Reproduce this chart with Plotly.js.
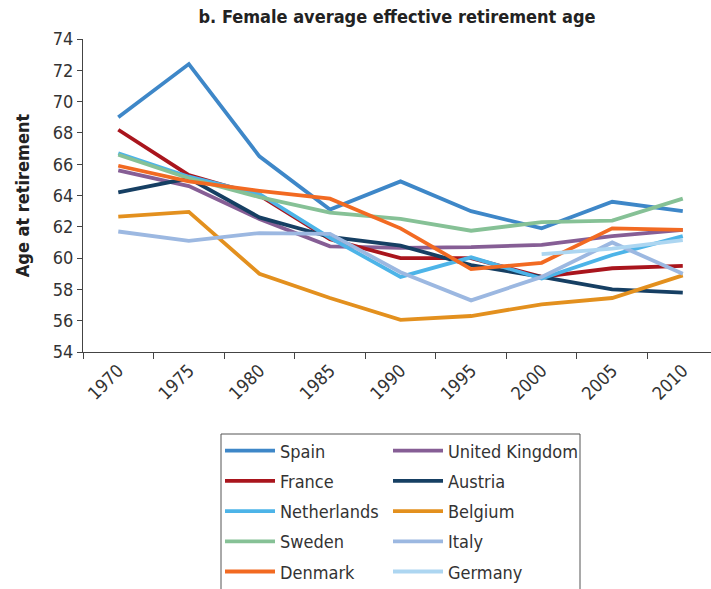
<!DOCTYPE html>
<html>
<head>
<meta charset="utf-8">
<script src="https://cdn.plot.ly/plotly-3.0.1.min.js"></script>
<style>html,body{margin:0;padding:0;background:#fff;}#chart{width:711px;height:589px;}</style>
</head>
<body>
<div id="chart"></div>
<script>
const years = ["1970","1975","1980","1985","1990","1995","2000","2005","2010"];
const spain       = [69.0, 72.4, 66.5, 63.1, 64.9, 63.0, 61.9, 63.6, 63.0];
const unitedKingdom = [65.6, 64.6, 62.5, 60.75, 60.65, 60.7, 60.85, 61.4, 61.8];
const france      = [68.2, 65.3, 64.0, 61.2, 60.0, 60.0, 58.8, 59.35, 59.5];
const austria     = [64.2, 65.1, 62.6, 61.35, 60.8, 59.55, 58.8, 58.0, 57.8];
const netherlands = [66.7, 65.2, 64.1, 61.3, 58.8, 60.05, 58.7, 60.2, 61.4];
const belgium     = [62.65, 62.95, 59.0, 57.45, 56.05, 56.3, 57.05, 57.45, 58.9];
const sweden      = [66.6, 65.1, 63.9, 62.9, 62.5, 61.75, 62.3, 62.4, 63.8];
const italy       = [61.7, 61.1, 61.6, 61.55, 59.1, 57.3, 58.8, 61.0, 59.0];
const denmark     = [65.9, 64.9, 64.3, 63.8, 61.9, 59.3, 59.7, 61.9, 61.8];
const germany     = [null, null, null, null, null, null, 60.25, 60.6, 61.15];

const series = [
  {name: "Spain", y: spain, color: "#3E87C8", legend: "legend"},
  {name: "United Kingdom", y: unitedKingdom, color: "#865E95", legend: "legend2"},
  {name: "France", y: france, color: "#A9151D", legend: "legend"},
  {name: "Austria", y: austria, color: "#163F63", legend: "legend2"},
  {name: "Netherlands", y: netherlands, color: "#4DB4E8", legend: "legend"},
  {name: "Belgium", y: belgium, color: "#E3901E", legend: "legend2"},
  {name: "Sweden", y: sweden, color: "#86C196", legend: "legend"},
  {name: "Italy", y: italy, color: "#9CB8E1", legend: "legend2"},
  {name: "Denmark", y: denmark, color: "#F26A22", legend: "legend"},
  {name: "Germany", y: germany, color: "#ADD6F1", legend: "legend2"}
];

const FONT = "'DejaVu Sans Condensed', 'Liberation Sans Narrow', sans-serif";

const data = series.map((s) => ({
  type: "scatter",
  mode: "lines",
  x: years,
  y: s.y,
  name: s.name,
  legend: s.legend,
  legendgroup: s.name,
  connectgaps: false,
  line: {color: s.color, width: 3.8},
  hoverinfo: "x+y+name"
}));

const legendCommon = {
  orientation: "v",
  xref: "paper",
  yref: "container",
  xanchor: "left",
  yanchor: "top",
  y: 1 - 432.5 / 589,
  bgcolor: "rgba(0,0,0,0)",
  borderwidth: 0,
  tracegroupgap: 3.8,
  font: {family: FONT, size: 18, color: "#333"},
  itemwidth: 50
};

const layout = {
  width: 711,
  height: 589,
  margin: {l: 83, r: 0, t: 39, b: 237},
  paper_bgcolor: "#fff",
  plot_bgcolor: "#fff",
  showlegend: true,
  font: {family: FONT, color: "#333"},
  title: {
    text: "b. Female average effective retirement age",
    font: {family: FONT, size: 18, color: "#222", weight: "bold"},
    x: 0.5, xref: "paper", xanchor: "center",
    y: 1 - 17/589, yref: "container", yanchor: "middle"
  },
  xaxis: {
    type: "category",
    range: [-0.5, 8.4],
    tickson: "boundaries",
    ticks: "outside",
    ticklen: 6,
    tickcolor: "#444",
    tickangle: -45,
    tickfont: {family: FONT, size: 18, color: "#333"},
    showline: true,
    linecolor: "#444",
    linewidth: 1,
    showgrid: false,
    zeroline: false,
    fixedrange: true
  },
  yaxis: {
    range: [54, 74],
    dtick: 2,
    tick0: 54,
    ticks: "outside",
    ticklen: 5,
    tickcolor: "#444",
    tickfont: {family: FONT, size: 18, color: "#333"},
    showline: true,
    linecolor: "#444",
    linewidth: 1,
    showgrid: false,
    zeroline: false,
    fixedrange: true,
    title: {
      text: "Age at retirement",
      font: {family: FONT, size: 18, color: "#222", weight: "bold"},
      standoff: 18
    }
  },
  legend: Object.assign({}, legendCommon, {x: (220 - 83) / 628}),
  legend2: Object.assign({}, legendCommon, {x: (388 - 83) / 628}),
  shapes: [{
    type: "rect",
    xref: "paper", yref: "paper",
    x0: (221 - 83) / 628, x1: (580 - 83) / 628,
    y0: (352 - 434) / 313, y1: (352 - 620) / 313,
    line: {color: "#555", width: 1},
    fillcolor: "rgba(0,0,0,0)",
    layer: "above"
  }]
};

Plotly.newPlot("chart", data, layout, {displayModeBar: false, staticPlot: true});
</script>
</body>
</html>
